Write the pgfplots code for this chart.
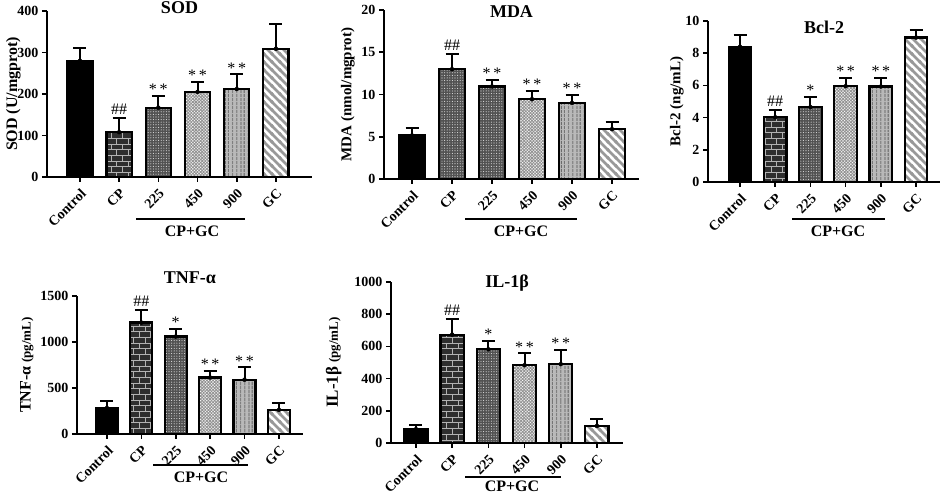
\documentclass[border=0pt]{standalone}
\usepackage{fontspec}
\setmainfont{Liberation Serif}
\usepackage{pgfplots}
\pgfplotsset{compat=1.18}
\usetikzlibrary{patterns,patterns.meta}

\newcommand{\fs}[1]{\fontsize{#1}{#1}\selectfont}

\pgfdeclarepatternformonly{thickstripes}{\pgfqpoint{-1pt}{-1pt}}{\pgfqpoint{9pt}{9pt}}{\pgfqpoint{8pt}{8pt}}{%
  \pgfsetlinewidth{2.8pt}%
  \pgfpathmoveto{\pgfqpoint{-1pt}{9pt}}\pgfpathlineto{\pgfqpoint{9pt}{-1pt}}%
  \pgfpathmoveto{\pgfqpoint{-1pt}{1pt}}\pgfpathlineto{\pgfqpoint{1pt}{-1pt}}%
  \pgfpathmoveto{\pgfqpoint{7pt}{9pt}}\pgfpathlineto{\pgfqpoint{9pt}{7pt}}%
  \pgfusepath{stroke}}

\tikzset{
  hh/.style={anchor=south, font=\fs{16}},
  st/.style={anchor=south, font=\fs{16}, inner sep=1pt},
}

\pgfplotsset{
  panel/.style={
    scale only axis,
    axis lines=left,
    axis line style={-, line width=1.8pt},
    every tick/.style={black, line width=1.6pt},
    tick align=outside,
    major tick length=5pt,
    ymin=0,
    xtick={0,1,2,3,4,5},
    xticklabels={Control,CP,225,450,900,GC},
    xticklabel style={rotate=45, anchor=north east, inner sep=0.5pt, font=\fs{14}\bfseries},
    xticklabel shift=5pt,
    yticklabel style={font=\fs{14}\bfseries},
    ylabel style={font=\fs{15}\bfseries},
    every axis title shift=0pt,
    title style={font=\fs{18}\bfseries, anchor=base},
    /pgf/number format/assume math mode=true,
    /pgf/number format/1000 sep={},
    scaled y ticks=false,
    clip=false,
  },
  bar/.style={ybar, bar width=0.64, bar shift=0pt, draw=black, line width=2.2pt},
  g0/.style={bar, fill=black},
  g1/.style={bar, fill=black!82, postaction={pattern=bricks, pattern color=gray!60, draw=black, line width=2.2pt}},
  g2/.style={bar, fill=black!68, postaction={pattern={Dots[distance=2.6pt, radius=0.55pt]}, pattern color=gray!25, draw=black, line width=2.2pt}},
  g3/.style={bar, fill=white, postaction={pattern={Hatch[angle=45, distance=2.2pt, line width=0.9pt]}, pattern color=gray!85, draw=black, line width=2.2pt}},
  g4/.style={bar, fill=gray!55, postaction={pattern={Lines[angle=90, distance=4pt, line width=1pt]}, pattern color=black!65, draw=black, line width=2.2pt}},
  g5/.style={bar, fill=white, postaction={pattern=thickstripes, pattern color=gray!80, draw=black, line width=2.2pt}},
  errs/.style={only marks, mark=none, black,
    error bars/.cd, y dir=plus, y explicit,
    error bar style={line width=2pt, black},
    error mark options={rotate=90, mark size=6.5pt, line width=2pt, black}},
}

\begin{document}
\begin{tikzpicture}[x=1pt,y=1pt]
\useasboundingbox (0,0) rectangle (943,494);

% ---------------- SOD ----------------
\begin{axis}[panel, at={(47pt,317pt)}, anchor=south west, width=265pt, height=166pt,
  xmin=-0.84, xmax=5.92, ymax=400, ytick={0,100,200,300,400},
  ylabel={SOD (U/mgprot)}, ylabel style={font=\fs{16}\bfseries}, ylabel shift=-10pt,
  title={SOD}, title style={at={(0.5,0.982)}}]
\addplot[g0] coordinates {(0,280)};
\addplot[g1] coordinates {(1,108)};
\addplot[g2] coordinates {(2,167)};
\addplot[g3] coordinates {(3,205)};
\addplot[g4] coordinates {(4,212)};
\addplot[g5] coordinates {(5,309)};
\addplot[errs] coordinates {(0,280) +- (0,30) (1,108) +- (0,33) (2,167) +- (0,29) (3,205) +- (0,25) (4,212) +- (0,35) (5,309) +- (0,59)};
\node[hh] at (axis cs:1,141) {\#\#};
\node[st] at (axis cs:2,196) {*\,*};
\node[st] at (axis cs:3,230) {*\,*};
\node[st] at (axis cs:4,247) {*\,*};
\end{axis}

% ---------------- MDA ----------------
\begin{axis}[panel, at={(384pt,315pt)}, anchor=south west, width=255pt, height=169pt,
  xmin=-0.7, xmax=5.675, ymax=20, ytick={0,5,10,15,20},
  ylabel={MDA (nmol/mgprot)}, title={MDA}, title style={at={(0.5,0.953)}}]
\addplot[g0] coordinates {(0,5.15)};
\addplot[g2] coordinates {(1,13.0)};
\addplot[g2] coordinates {(2,10.95)};
\addplot[g3] coordinates {(3,9.45)};
\addplot[g4] coordinates {(4,9.0)};
\addplot[g5] coordinates {(5,5.9)};
\addplot[errs] coordinates {(0,5.15) +- (0,0.9) (1,13.0) +- (0,1.8) (2,10.95) +- (0,0.75) (3,9.45) +- (0,0.98) (4,9.0) +- (0,0.92) (5,5.9) +- (0,0.9)};
\node[hh] at (axis cs:1,14.8) {\#\#};
\node[st] at (axis cs:2,11.7) {*\,*};
\node[st] at (axis cs:3,10.43) {*\,*};
\node[st] at (axis cs:4,9.92) {*\,*};
\end{axis}

% ---------------- Bcl-2 ----------------
\begin{axis}[panel, at={(708pt,312pt)}, anchor=south west, width=232pt, height=161pt,
  xmin=-0.91, xmax=5.68, ymax=10, ytick={0,2,4,6,8,10},
  ylabel={Bcl-2 (ng/mL)}, ylabel shift=-5pt, title={Bcl-2}, title style={at={(0.5,0.925)}}]
\addplot[g0] coordinates {(0,8.4)};
\addplot[g1] coordinates {(1,4.02)};
\addplot[g2] coordinates {(2,4.65)};
\addplot[g3] coordinates {(3,5.95)};
\addplot[g4] coordinates {(4,5.93)};
\addplot[g5] coordinates {(5,8.97)};
\addplot[errs] coordinates {(0,8.4) +- (0,0.72) (1,4.02) +- (0,0.46) (2,4.65) +- (0,0.62) (3,5.95) +- (0,0.5) (4,5.93) +- (0,0.55) (5,8.97) +- (0,0.45)};
\node[hh] at (axis cs:1,4.48) {\#\#};
\node[st] at (axis cs:2,5.27) {*};
\node[st] at (axis cs:3,6.45) {*\,*};
\node[st] at (axis cs:4,6.48) {*\,*};
\end{axis}

% ---------------- TNF-alpha ----------------
\begin{axis}[panel, at={(77pt,60pt)}, anchor=south west, width=226pt, height=138pt,
  xmin=-0.87, xmax=5.70, ymax=1500, ytick={0,500,1000,1500},
  ylabel={{\fs{16}TNF-α} {\fs{13}(pg/mL)}}, title={TNF-α}, title style={at={(0.5,1.094)}}]
\addplot[g0] coordinates {(0,282)};
\addplot[g1] coordinates {(1,1211)};
\addplot[g2] coordinates {(2,1059)};
\addplot[g3] coordinates {(3,614)};
\addplot[g4] coordinates {(4,590)};
\addplot[g5] coordinates {(5,262)};
\addplot[errs] coordinates {(0,282) +- (0,72) (1,1211) +- (0,137) (2,1059) +- (0,83) (3,614) +- (0,76) (4,590) +- (0,133) (5,262) +- (0,74)};
\node[hh] at (axis cs:1,1348) {\#\#};
\node[st] at (axis cs:2,1142) {*};
\node[st] at (axis cs:3,690) {*\,*};
\node[st] at (axis cs:4,723) {*\,*};
\end{axis}

% ---------------- IL-1beta ----------------
\begin{axis}[panel, at={(391pt,51pt)}, anchor=south west, width=232pt, height=161pt,
  xmin=-0.69, xmax=5.72, ymax=1000, ytick={0,200,400,600,800,1000},
  ylabel={{\fs{17}IL-1β} {\fs{13}(pg/mL)}}, ylabel shift=6pt, title={IL-1β}, title style={at={(0.5,0.963)}}]
\addplot[g0] coordinates {(0,86)};
\addplot[g1] coordinates {(1,673)};
\addplot[g2] coordinates {(2,582)};
\addplot[g3] coordinates {(3,483)};
\addplot[g4] coordinates {(4,490)};
\addplot[g5] coordinates {(5,106)};
\addplot[errs] coordinates {(0,86) +- (0,24) (1,673) +- (0,95) (2,582) +- (0,54) (3,483) +- (0,75) (4,490) +- (0,90) (5,106) +- (0,45)};
\node[hh] at (axis cs:1,768) {\#\#};
\node[st] at (axis cs:2,636) {*};
\node[st] at (axis cs:3,557) {*\,*};
\node[st] at (axis cs:4,580) {*\,*};
\end{axis}

% ---------------- CP+GC group brackets ----------------
\begin{scope}[line width=2.6pt]
\draw (136,275) -- (245,275);
\node[font=\fs{16}\bfseries] at (192,263) {CP+GC};
\draw (465,275) -- (577,275);
\node[font=\fs{16}\bfseries] at (521,263) {CP+GC};
\draw (792,275) -- (885,275);
\node[font=\fs{16}\bfseries] at (838,263) {CP+GC};
\draw (153,29) -- (248,29);
\node[font=\fs{16}\bfseries] at (201,17) {CP+GC};
\draw (465,17) -- (561,17);
\node[font=\fs{16}\bfseries, inner sep=1pt] at (512,8) {CP+GC};
\end{scope}
\end{tikzpicture}
\end{document}
